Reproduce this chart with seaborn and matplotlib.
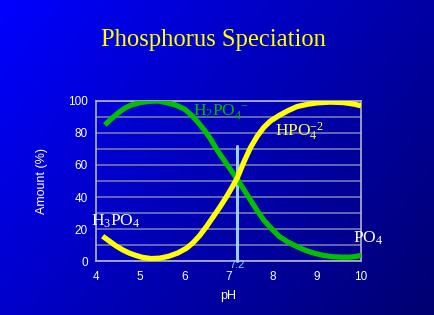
import numpy as np
import pandas as pd
import matplotlib
matplotlib.use("Agg")
import matplotlib.pyplot as plt
import seaborn as sns

# ---- data ----
ph_h2po4 = [4.2, 4.35, 4.5, 4.65, 4.8, 5.0, 5.2, 5.4, 5.6, 5.8, 6.0, 6.15, 6.3, 6.45, 6.6,
            6.75, 6.9, 7.05, 7.2, 7.35, 7.5, 7.65, 7.8, 8.0, 8.15, 8.35, 8.55, 8.75, 8.95,
            9.15, 9.35, 9.55, 9.75, 9.9, 10.05]
amt_h2po4 = [85, 89, 92.5, 95.5, 97.5, 99, 99.8, 100, 99, 97.5, 95, 91.5, 87, 82, 76,
             69, 63, 57, 51, 44.5, 38, 31.5, 25.5, 19.5, 15.3, 11.8, 9, 6.6, 4.8,
             3.5, 2.7, 2.4, 2.4, 2.9, 3.9]
ph_hpo4 = [4.15, 4.3, 4.45, 4.6, 4.75, 4.9, 5.05, 5.25, 5.45, 5.65, 5.85, 6.05, 6.2, 6.35,
           6.5, 6.65, 6.8, 6.95, 7.1, 7.2, 7.35, 7.5, 7.65, 7.8, 7.95, 8.15, 8.35, 8.55,
           8.8, 9.0, 9.3, 9.6, 9.85, 10.0]
amt_hpo4 = [15.5, 12.5, 9.5, 7, 5, 3.5, 2.3, 1.5, 1.8, 3, 5, 8, 11.5, 16,
            21.5, 27.5, 33.5, 40, 47, 52, 62, 71, 78, 83.5, 87.5, 91, 94, 96.5,
            98, 98.8, 99.3, 99, 98, 97]
pka = 7.2
pka_line_top = 72
x_ticks = [4, 5, 6, 7, 8, 9, 10]
y_ticks = [0, 20, 40, 60, 80, 100]
title = "Phosphorus Speciation"

df_g = pd.DataFrame({"pH": ph_h2po4, "Amount": amt_h2po4})
df_y = pd.DataFrame({"pH": ph_hpo4, "Amount": amt_hpo4})

sns.set_theme(style="white")
plt.rcParams["font.family"] = ["Liberation Sans", "DejaVu Sans"]

fig = plt.figure(figsize=(4.35, 3.15), dpi=100)

# gradient background
bg = fig.add_axes([0, 0, 1, 1], zorder=-10)
H, W = 315, 435
yy, xx = np.mgrid[0:H, 0:W]
img = np.zeros((H, W, 3))
img[..., 2] = np.clip(255 - 92 * (xx / W) - 52 * (yy / H), 0, 255) / 255.0
bg.imshow(img, aspect="auto", extent=[0, 1, 0, 1], origin="upper")
bg.axis("off")

ax = fig.add_axes([0.2207, 0.1714, 0.6092, 0.508])
ax.set_facecolor("none")

sns.lineplot(data=df_g, x="pH", y="Amount", ax=ax, color="#00C000", lw=3.8,
             sort=False, solid_capstyle="butt", solid_joinstyle="round", zorder=4)
sns.lineplot(data=df_y, x="pH", y="Amount", ax=ax, color="#FFFF00", lw=3.8,
             sort=False, solid_capstyle="butt", solid_joinstyle="round", zorder=5)
ax.plot([pka, pka], [0, pka_line_top], color="#99CCFF", lw=2.2, zorder=3, clip_on=False)

ax.set_xlim(4, 10)
ax.set_ylim(0, 100)
ax.set_xticks(x_ticks)
ax.set_yticks(y_ticks)
ax.set_yticks([10, 30, 50, 70, 90], minor=True)
ax.grid(True, axis="y", which="both", color="#6E6EB4", lw=1.3)
ax.grid(False, axis="x")
for s in ax.spines.values():
    s.set_color("#B4B4CC")
    s.set_linewidth(1.2)
ax.tick_params(axis="x", colors="white", labelsize=8.5, length=2, direction="in", pad=7.5)
ax.tick_params(axis="y", colors="white", labelsize=8.5, length=0, pad=6)
ax.tick_params(axis="y", which="minor", length=0)
ax.set_xlabel("pH", color="white", fontsize=9, labelpad=5)
ax.set_ylabel("Amount (%)", color="white", fontsize=9, labelpad=14)

serif = ["Liberation Serif", "DejaVu Serif"]
ax.text(6.2, 91, r"$\mathregular{H_2PO_4^{\ -}}$", color="#00B800", fontsize=12.5,
        family=serif, va="baseline", ha="left", zorder=6)
ax.text(8.05, 77.7, r"$\mathregular{HPO_4^{-2}}$", color="#FFFF40", fontsize=12.5,
        family=serif, va="baseline", ha="left", zorder=6)
ax.text(3.88, 21.9, r"$\mathregular{H_3PO_4}$", color="white", fontsize=12.5,
        family=serif, va="baseline", ha="left", zorder=6, clip_on=False)
ax.text(9.82, 11.4, r"$\mathregular{PO_4}$", color="white", fontsize=12.5,
        family=serif, va="baseline", ha="left", zorder=6, clip_on=False)
ax.text(pka, 0.5, "7.2", color="#99CCFF", fontsize=8, ha="center", va="top",
        zorder=6, clip_on=False)

fig.text(0.49, 0.873, title, color="#FFFF00", fontsize=17.7, family=serif,
         ha="center", va="center")

fig.savefig("out.png", dpi=100)
